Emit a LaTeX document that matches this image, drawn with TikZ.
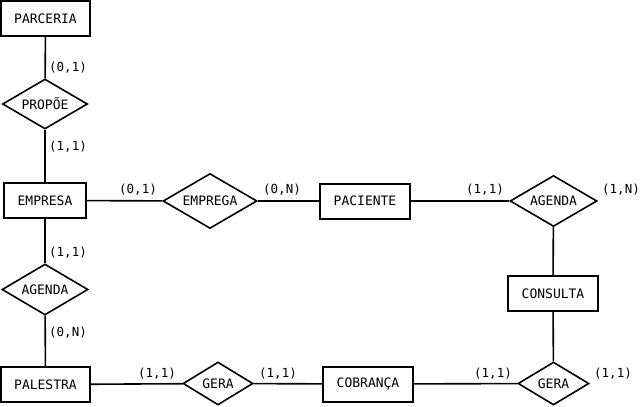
\documentclass[tikz,border=0pt]{standalone}
\usepackage{fontspec}
\setmonofont{DejaVu Sans Mono}
\usetikzlibrary{shapes.geometric}
\begin{document}
\begin{tikzpicture}[x=1pt,y=-1pt,
  ent/.style={draw,line width=2pt,minimum width=89pt,minimum height=35pt,inner sep=0pt,font=\ttfamily\fontsize{13}{15}\selectfont},
  rel/.style={draw,line width=1.6pt,diamond,inner sep=0pt,
    label={[font=\ttfamily\fontsize{13}{15}\selectfont,inner sep=0pt]center:#1}},
  card/.style={font=\ttfamily\fontsize{12.5}{14}\selectfont,inner sep=0pt},
  conn/.style={line width=1.6pt}]
\useasboundingbox (0,0) rectangle (643,407);
\node[ent] (parceria) at (45.5,18.5) {PARCERIA};
\node[rel=PROPÕE,minimum width=85pt,minimum height=50pt] (propoe) at (45,104) {};
\node[ent,minimum width=82pt] (empresa) at (45,200.5) {EMPRESA};
\node[rel=EMPREGA,minimum width=94pt,minimum height=55pt] (emprega) at (210,201) {};
\node[ent,minimum width=90pt] (paciente) at (365,201) {PACIENTE};
\node[rel=AGENDA,minimum width=87pt,minimum height=51pt] (agendar) at (553.5,201) {};
\node[ent,minimum width=90pt] (consulta) at (553,293.5) {CONSULTA};
\node[rel=GERA,minimum width=71pt,minimum height=43pt] (gerar) at (553.5,383.5) {};
\node[ent,minimum width=90pt] (cobranca) at (368,384) {COBRANÇA};
\node[rel=GERA,minimum width=70pt,minimum height=43pt] (geral) at (218,383.5) {};
\node[ent] (palestra) at (45.5,384.5) {PALESTRA};
\node[rel=AGENDA,minimum width=86pt,minimum height=51pt] (agendal) at (45,289.5) {};

\draw[conn] (parceria) -- (propoe);
\draw[conn] (propoe) -- (empresa);
\draw[conn] (empresa) -- (emprega);
\draw[conn] (emprega) -- (paciente);
\draw[conn] (paciente) -- (agendar);
\draw[conn] (agendar) -- (consulta);
\draw[conn] (consulta) -- (gerar);
\draw[conn] (gerar) -- (cobranca);
\draw[conn] (cobranca) -- (geral);
\draw[conn] (geral) -- (palestra);
\draw[conn] (palestra) -- (agendal);
\draw[conn] (agendal) -- (empresa);

\node[card] (c1) at (68,68) {(0,1)};
\node[card] (c2) at (68,147) {(1,1)};
\node[card] (c3) at (138,190) {(0,1)};
\node[card] (c4) at (282,190) {(0,N)};
\node[card] (c5) at (68,253) {(1,1)};
\node[card] (c6) at (68,333) {(0,N)};
\node[card] (c7) at (485,190) {(1,1)};
\node[card] (c8) at (621,190) {(1,N)};
\node[card] (c9) at (157,374) {(1,1)};
\node[card] (c10) at (278,374) {(1,1)};
\node[card] (c11) at (493,374) {(1,1)};
\node[card] (c12) at (613,374) {(1,1)};
\end{tikzpicture}
\end{document}
